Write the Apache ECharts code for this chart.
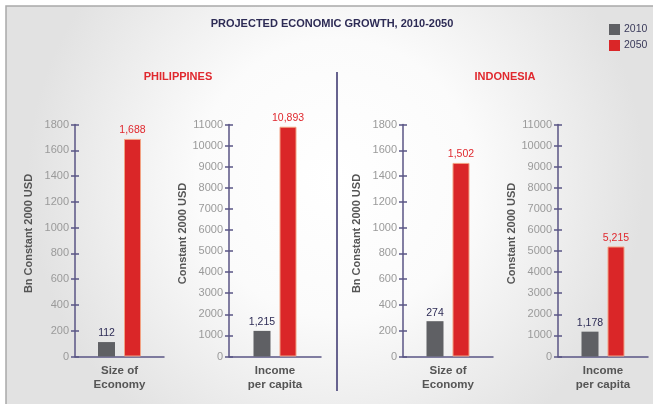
<!DOCTYPE html>
<html>
<head>
<meta charset="utf-8">
<script src="https://cdn.jsdelivr.net/npm/echarts@6/dist/echarts.min.js"></script>
<style>
html,body{margin:0;padding:0;background:#fff;}
#c{width:653px;height:404px;}
</style>
</head>
<body>
<div id="c"></div>
<script>
const title = 'PROJECTED ECONOMIC GROWTH, 2010-2050';
const countries = ['PHILIPPINES', 'INDONESIA'];
const years = ['2010', '2050'];
const categories = ['Size of\nEconomy', 'Income\nper capita'];
const axisNames = ['Bn Constant 2000 USD', 'Constant 2000 USD'];
const size2010 = [112, 274];
const size2050 = [1688, 1502];
const income2010 = [1215, 1178];
const income2050 = [10893, 5215];
const sizeAxis = { min: 0, max: 1800, interval: 200 };
const incomeAxis = { min: 0, max: 11000, interval: 1000 };

const FONT = 'Liberation Sans, Arial, sans-serif';
const AXIS = '#5a5585';
const GRAY = '#5f6064';
const RED = '#da2628';
const NAVY = '#2d2b55';

const grids = [
  { left: 75, width: 89 },
  { left: 229, width: 92 },
  { left: 403, width: 90 },
  { left: 558, width: 90 }
];
const panels = [
  { cat: categories[0], name: axisNames[0], ax: sizeAxis, v0: size2010[0], v1: size2050[0] },
  { cat: categories[1], name: axisNames[1], ax: incomeAxis, v0: income2010[0], v1: income2050[0] },
  { cat: categories[0], name: axisNames[0], ax: sizeAxis, v0: size2010[1], v1: size2050[1] },
  { cat: categories[1], name: axisNames[1], ax: incomeAxis, v0: income2010[1], v1: income2050[1] }
];

const fmt = v => v.toLocaleString('en-US');

const option = {
  animation: false,
  textStyle: { fontFamily: FONT },
  graphic: [
    { type: 'rect', z: -10, silent: true, shape: { x: 6, y: 6, width: 660, height: 410 },
      style: { fill: new echarts.graphic.RadialGradient(0.5, 0.42, 0.75, [
        { offset: 0, color: '#ffffff' }, { offset: 0.45, color: '#fbfbfb' }, { offset: 1, color: '#e2e2e2' }]),
        stroke: '#a9a9a9', lineWidth: 1.5 } },
    { type: 'line', shape: { x1: 337, y1: 72, x2: 337, y2: 391 }, style: { stroke: '#67638f', lineWidth: 2 } },
    { type: 'text', x: 332, y: 24, style: { text: title, fill: NAVY, font: 'bold 11px ' + FONT, align: 'center', verticalAlign: 'middle' } },
    { type: 'text', x: 178, y: 77, style: { text: countries[0], fill: '#e0282e', font: 'bold 11px ' + FONT, align: 'center', verticalAlign: 'middle' } },
    { type: 'text', x: 505, y: 77, style: { text: countries[1], fill: '#e0282e', font: 'bold 11px ' + FONT, align: 'center', verticalAlign: 'middle' } }
  ],
  legend: {
    data: years, orient: 'vertical', left: 604, top: 19, itemWidth: 11, itemHeight: 11, itemGap: 5,
    icon: 'rect', itemStyle: { borderWidth: 0 },
    textStyle: { color: '#3a3a5a', fontSize: 10.5, fontFamily: FONT, padding: [0, 0, 0, -1] }
  },
  grid: grids.map(g => ({ left: g.left, width: g.width, top: 124.5, height: 232 })),
  xAxis: panels.map((p, i) => ({
    type: 'category', gridIndex: i, data: [p.cat],
    axisLine: { lineStyle: { color: AXIS, width: 1.5 } },
    axisTick: { show: false },
    axisLabel: { color: '#555', fontWeight: 'bold', fontSize: 11.5, lineHeight: 14, margin: 7, fontFamily: FONT }
  })),
  yAxis: [].concat(
    panels.map((p, i) => ({
      type: 'value', gridIndex: i, position: 'left', min: p.ax.min, max: p.ax.max, interval: p.ax.interval,
      name: p.name, nameLocation: 'middle', nameGap: 41, nameRotate: 90,
      nameTextStyle: { color: '#555', fontWeight: 'bold', fontSize: 11, fontFamily: FONT, padding: [0, 0, 0, 14] },
      axisLine: { show: true, lineStyle: { color: AXIS, width: 1.5 } },
      axisTick: { show: true, length: 4, lineStyle: { color: AXIS, width: 1.5 } },
      axisLabel: { color: '#9a9a9a', fontSize: 11, margin: 6, fontFamily: FONT, formatter: v => String(v) },
      splitLine: { show: false }
    })),
    panels.map((p, i) => ({
      type: 'value', gridIndex: i, position: 'left', min: p.ax.min, max: p.ax.max, interval: p.ax.interval,
      axisLine: { show: false },
      axisTick: { show: true, inside: true, length: 4, lineStyle: { color: AXIS, width: 1.5 } },
      axisLabel: { show: false },
      splitLine: { show: false }
    }))
  ),
  series: [].concat(...panels.map((p, i) => ([
    { name: years[0], type: 'bar', xAxisIndex: i, yAxisIndex: i, data: [p.v0], barWidth: 17, barGap: '53%',
      itemStyle: { color: GRAY },
      label: { show: true, position: 'top', distance: 3, color: NAVY, fontSize: 10.5, fontFamily: FONT, formatter: d => fmt(d.value) } },
    { name: years[1], type: 'bar', xAxisIndex: i, yAxisIndex: i, data: [p.v1], barWidth: 17, barGap: '53%',
      itemStyle: { color: RED, borderColor: '#f2a183', borderWidth: 1 },
      label: { show: true, position: 'top', distance: 3, color: '#e0282e', fontSize: 10.5, fontFamily: FONT, formatter: d => fmt(d.value) } }
  ])))
};

const chart = echarts.init(document.getElementById('c'), null, { renderer: 'canvas' });
chart.setOption(option);
</script>
</body>
</html>
